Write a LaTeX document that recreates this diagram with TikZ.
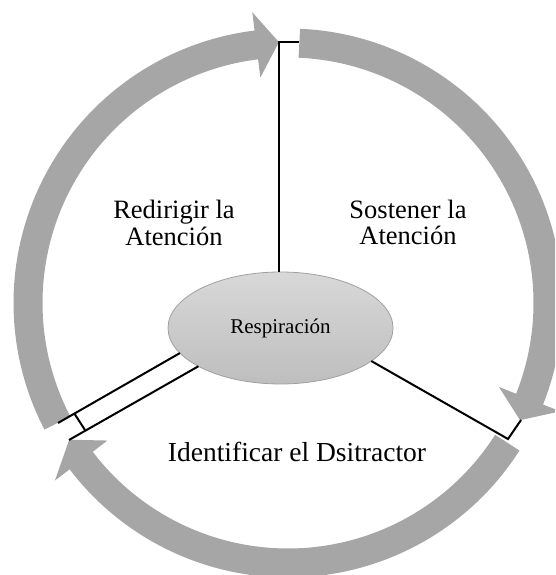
\documentclass[tikz,border=0pt]{standalone}
\usepackage{fontspec}
\setmainfont{Liberation Serif}
\usetikzlibrary{shapes.geometric,calc}
\definecolor{bandgray}{RGB}{166,166,166}
\definecolor{elltop}{RGB}{216,216,216}
\definecolor{ellbot}{RGB}{190,190,190}
\definecolor{ellline}{RGB}{160,160,160}
\begin{document}
\begin{tikzpicture}[x=1pt,y=1pt,
  band/.style={draw=bandgray, line width=29pt},
  headfill/.style={fill=bandgray},
  conn/.style={draw=black, line width=2pt, line join=miter},
  lbl/.style={font=\fontsize{26.5}{26.5}\selectfont, align=center, inner sep=0pt}]
\clip (0,0) rectangle (555,575);
% cycle arrows
\begin{scope}[shift={(288,272)}]
  \draw[band] (207.5:260) arc[start angle=207.5,end angle=96.6,radius=260];
  \fill[headfill] (97:293) -- (92:261) -- (97:227) -- cycle;
  \draw[band] (87.5:260) arc[start angle=87.5,end angle=-22.1,radius=260];
  \fill[headfill] (-21.7:293) -- (-26.8:260) -- (-21.7:227) -- cycle;
  \draw[band] (-32.5:260) arc[start angle=-32.5,end angle=-143.1,radius=260];
  \fill[headfill] (-142.7:293) -- (-148:258) -- (-142.7:227) -- cycle;
\end{scope}
% centre
\node[ellipse, minimum width=225pt, minimum height=112pt, inner sep=0pt, outer sep=0pt,
      top color=elltop, bottom color=ellbot, draw=ellline, line width=0.8pt,
      font=\fontsize{21}{21}\selectfont] (resp) at (280.5,247) {Respiración};
% connectors
\coordinate (ttip) at (279,533);
\coordinate (tend) at (299,533);
\draw[conn] (resp.north -| ttip) -- (ttip) -- (tend);
\coordinate (rc) at (508,136);
\coordinate (rtip) at (521,155);
\draw[conn] (resp.-20) -- (rc) -- (rtip);
\coordinate (lb) at (74,162);
\coordinate (lu) at (58,152);
\coordinate (lc) at (85,145);
\coordinate (ll) at (69,135);
\draw[conn] (resp.194) -- (lu);
\draw[conn] (resp.205) -- (ll);
\draw[conn] (lb) -- (lc);
% labels
\node[lbl] (redir) at (174,352) {Redirigir la\\Atención};
\node[lbl] (sost) at (408,352.5) {Sostener la\\Atención};
\node[lbl, font=\fontsize{27.5}{27.5}\selectfont, anchor=base] (ident) at (297,113) {Identificar el Dsitractor};
\end{tikzpicture}
\end{document}
